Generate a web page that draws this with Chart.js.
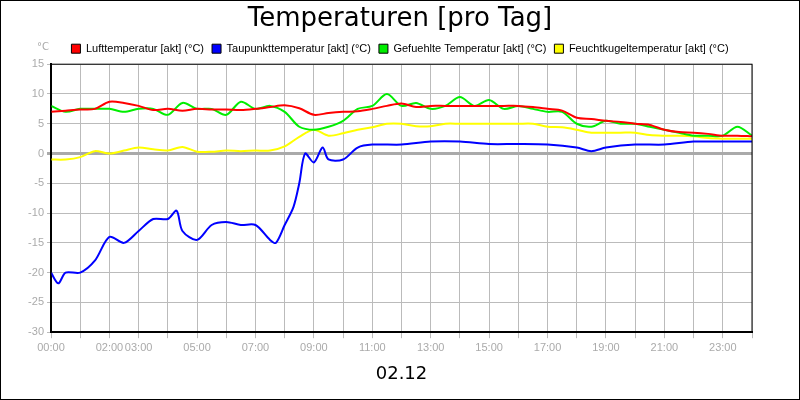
<!DOCTYPE html>
<html>
<head>
<meta charset="utf-8">
<script src="https://cdn.jsdelivr.net/npm/chart.js@4"></script>
<style>
  body { margin: 0; background: #fff; }
  #wrap { width: 798px; height: 398px; border: 1px solid #000; position: relative; }
  #unit { position: absolute; left: 36px; top: 40px; font: 10px "DejaVu Sans", sans-serif; color: #aaa; }
</style>
</head>
<body>
<div id="wrap"><canvas id="chart" width="798" height="398"></canvas><div id="unit">°C</div></div>
<script>
// Half-hour sample times (hours) for the air, felt and wet-bulb series
const halfHours = [0,0.5,1,1.5,2,2.5,3,3.5,4,4.5,5,5.5,6,6.5,7,7.5,8,8.5,9,9.5,10,10.5,11,11.5,12,12.5,13,13.5,14,14.5,15,15.5,16,16.5,17,17.5,18,18.5,19,19.5,20,20.5,21,21.5,22,22.5,23,23.5,24];

const luft = [7,7.2,7.4,7.5,8.7,8.5,8,7.3,7.5,7.2,7.5,7.4,7.4,7.3,7.5,7.8,8.1,7.6,6.5,6.8,7,7.1,7.5,8,8.4,7.8,8,8,8,8,8,8,8,7.8,7.5,7.2,6,5.8,5.5,5.3,5,4.8,4,3.6,3.5,3.3,3,3,2.9];
const gefuehlt = [8,7,7.5,7.5,7.5,7,7.5,7.5,6.5,8.5,7.5,7.5,6.5,8.7,7.5,8,7,4.5,4,4.5,5.5,7.5,8,10,8,8.5,7.5,8,9.5,8,9,7.5,8,7.5,7,7,5,4.5,5.5,5,5,4.5,4,3.5,3,3,3,4.5,3];
const feuchtkugel = [-1,-1,-0.6,0.4,0,0.5,1,0.7,0.5,1.1,0.3,0.3,0.5,0.4,0.5,0.5,1.2,2.8,4,3,3.4,4,4.4,5,5,4.6,4.6,5,5,5,5,5,5,5,4.5,4.4,4,3.5,3.5,3.5,3.5,3.1,3,3,2.9,2.6,2.5,2.5,2.5];

// Dew point has its own sample times (finer around the jump)
const tauTimes = [0,0.25,0.5,1,1.5,2,2.5,3,3.5,4,4.3,4.5,5,5.5,6,6.5,7,7.5,7.7,8,8.3,8.5,8.7,9,9.3,9.5,10,10.5,11,12,13,14,15,16,17,18,18.5,19,20,21,22,23,24];
const taupunkt = [-20,-21.8,-20,-20,-18,-14,-15,-13,-11,-11,-9.6,-13,-14.5,-12,-11.5,-12,-12,-14.5,-15,-12,-9,-5,0,-1.5,1,-1,-1,1,1.5,1.5,2,2,1.6,1.6,1.5,1,0.4,1,1.5,1.5,2,2,2];

const hourLabels = {0:"00:00",2:"02:00",3:"03:00",5:"05:00",7:"07:00",9:"09:00",11:"11:00",13:"13:00",15:"15:00",17:"17:00",19:"19:00",21:"21:00",23:"23:00"};

const pts = (xs, ys) => xs.map((x, i) => ({ x, y: ys[i] }));
const line = (label, color, data) => ({
  label, data, borderColor: color, backgroundColor: color,
  borderWidth: 2, pointRadius: 0, tension: 0.3
});

new Chart(document.getElementById("chart"), {
  type: "line",
  data: {
    datasets: [
      line("Lufttemperatur [akt] (°C)", "#ff0000", pts(halfHours, luft)),
      line("Taupunkttemperatur [akt] (°C)", "#0000ff", pts(tauTimes, taupunkt)),
      line("Gefuehlte Temperatur [akt] (°C)", "#00ee00", pts(halfHours, gefuehlt)),
      line("Feuchtkugeltemperatur [akt] (°C)", "#ffff00", pts(halfHours, feuchtkugel)),
    ],
  },
  options: {
    responsive: false,
    animation: false,
    layout: { padding: { left: 0, right: 0, top: 0, bottom: 14 } },
    plugins: {
      title: {
        display: true, text: "Temperaturen [pro Tag]", color: "#000",
        font: { family: "DejaVu Sans", size: 26, weight: "normal" },
        padding: { top: 3, bottom: 0 },
      },
      legend: {
        labels: {
          boxWidth: 9, boxHeight: 9, color: "#000",
          font: { family: "Liberation Sans", size: 11 },
          padding: 8,
          generateLabels: (chart) => chart.data.datasets.map((d, i) => ({
            text: d.label, fillStyle: d.borderColor, strokeStyle: "#000",
            lineWidth: 1, datasetIndex: i, fontColor: "#000",
          })),
        },
      },
      tooltip: { enabled: false },
    },
    scales: {
      x: {
        type: "linear", min: 0, max: 24,
        border: { color: "#000", width: 2 },
        grid: { color: "#bbb", tickLength: 6 },
        ticks: {
          stepSize: 1, autoSkip: false, maxRotation: 0, color: "#aaa",
          font: { family: "Liberation Sans Narrow, Liberation Sans", size: 11 },
          callback: (v) => hourLabels[v] || "",
        },
        title: {
          display: true, text: "02.12", color: "#000",
          font: { family: "DejaVu Sans", size: 18 }, padding: { top: 6, bottom: 0 },
        },
      },
      y: {
        min: -30, max: 15,
        border: { color: "#000", width: 2 },
        grid: {
          color: (c) => (c.tick.value === 0 ? "#aaa" : "#bbb"),
          lineWidth: (c) => (c.tick.value === 0 ? 3 : 1),
          tickLength: 4,
        },
        ticks: { stepSize: 5, color: "#aaa", font: { family: "Liberation Sans", size: 11 } },
        afterFit: (s) => { s.width = 50; },
      },
      // empty spacer on the right so the title stays centred
      spacer: {
        position: "right", min: -30, max: 15,
        grid: { display: false }, border: { display: false },
        ticks: { display: false },
        afterFit: (s) => { s.width = 47; },
      },
    },
  },
  plugins: [{
    id: "frame",
    afterDraw(chart) {
      const { ctx, chartArea: a } = chart;
      ctx.save();
      ctx.strokeStyle = "#000"; ctx.lineWidth = 1;
      ctx.strokeRect(a.left, a.top, a.right - a.left, a.bottom - a.top);
      ctx.restore();
    },
  }],
});
</script>
</body>
</html>
